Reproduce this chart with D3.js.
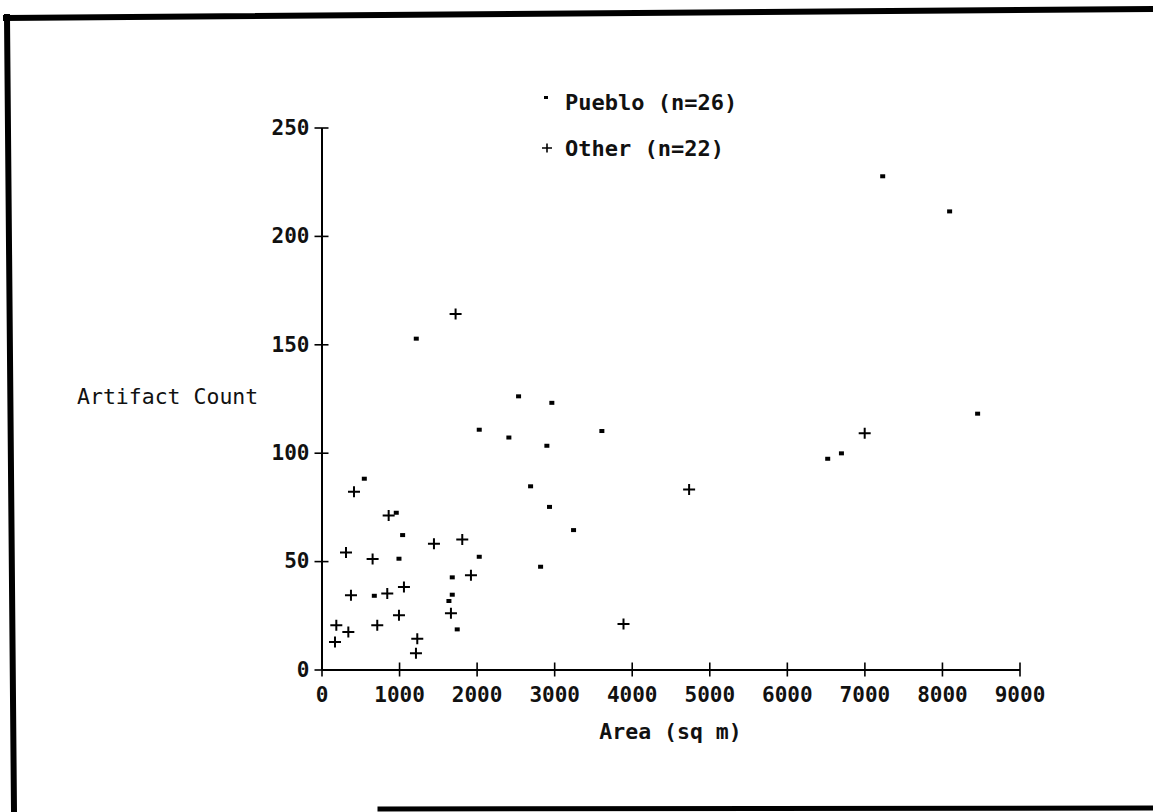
<!DOCTYPE html>
<html>
<head>
<meta charset="utf-8">
<script src="https://cdn.jsdelivr.net/npm/d3@7"></script>
<style>
  html, body { margin: 0; padding: 0; background: #fff; }
  svg { display: block; }
  text { font-family: "DejaVu Sans Mono", "Liberation Mono", monospace; fill: #111; }
</style>
</head>
<body>
<svg id="chart" width="1153" height="812"></svg>
<script>
// ---- data ----
const puebloArea  = [1222, 2541, 2970, 2034, 2416, 2906, 3615, 7236, 8099, 8460, 6527, 6704, 2696,
                     2940, 3250, 2825, 2034, 552, 964, 1046, 999, 1686, 1686, 1643, 681, 1750];
const puebloCount = [152.6, 126, 123, 110.6, 107, 103.2, 110, 227.5, 211.3, 118, 97.2, 99.7, 84.5,
                     75, 64.3, 47.4, 52, 88, 72.3, 62, 51.1, 42.5, 34.5, 31.6, 34, 18.5];
const otherArea   = [1729, 7004, 4740, 3894, 1815, 1927, 419, 866, 1450, 316, 659, 1063, 380, 848,
                     1669, 999, 191, 719, 346, 174, 1235, 1218];
const otherCount  = [164, 109, 83, 21, 60, 43.5, 82, 71, 58, 54, 51, 38, 34.2, 35,
                     26, 25, 20.4, 20.4, 17.3, 12.7, 14.2, 7.5];
const xTicks = [0, 1000, 2000, 3000, 4000, 5000, 6000, 7000, 8000, 9000];
const yTicks = [0, 50, 100, 150, 200, 250];
const legendLabels = ["Pueblo (n=26)", "Other (n=22)"];
const xTitle = "Area (sq m)";
const yTitle = "Artifact Count";

const svg = d3.select("#chart");
const x = d3.scaleLinear().domain([0, 9000]).range([321.5, 1019.5]);
const y = d3.scaleLinear().domain([0, 250]).range([669.5, 127.5]);

// ---- frame ----
const frame = svg.append("g").attr("stroke", "#000").attr("stroke-linecap", "square");
frame.append("line").attr("x1", 6).attr("y1", 18).attr("x2", 1153).attr("y2", 9).attr("stroke-width", 6);
frame.append("line").attr("x1", 7).attr("y1", 17).attr("x2", 14).attr("y2", 812).attr("stroke-width", 6);
frame.append("line").attr("x1", 380).attr("y1", 809).attr("x2", 1153).attr("y2", 808).attr("stroke-width", 5);

// ---- axes ----
const xAxis = d3.axisBottom(x).tickValues(xTicks).tickSize(0).tickPadding(18).tickFormat(d3.format("d"));
const gx = svg.append("g").attr("transform", `translate(0,${y(0)})`).call(xAxis);
gx.select(".domain").attr("stroke", "#000").attr("stroke-width", 2);
gx.selectAll(".tick line").remove();
gx.selectAll(".tick").append("line").attr("y1", -7).attr("y2", 7).attr("stroke", "#000").attr("stroke-width", 1.6);
gx.selectAll(".tick text").attr("font-size", 21).attr("font-weight", "bold")
  .attr("font-family", "'DejaVu Sans Mono', monospace").attr("fill", "#111");

const yAxis = d3.axisLeft(y).tickValues(yTicks).tickSize(0).tickPadding(12).tickFormat(d3.format("d"));
const gy = svg.append("g").attr("transform", `translate(${x(0)},0)`).call(yAxis);
gy.select(".domain").attr("stroke", "#000").attr("stroke-width", 2);
gy.selectAll(".tick line").remove();
gy.selectAll(".tick").append("line").attr("x1", -7).attr("x2", 7).attr("stroke", "#000").attr("stroke-width", 1.6);
gy.selectAll(".tick text").attr("font-size", 21).attr("font-weight", "bold")
  .attr("font-family", "'DejaVu Sans Mono', monospace").attr("fill", "#111");

// axis titles
svg.append("text").attr("x", (x(0) + x(9000)) / 2).attr("y", 739)
  .attr("text-anchor", "middle").attr("font-size", 21.5).attr("font-weight", "bold").text(xTitle);
svg.append("text").attr("x", 77).attr("y", 404)
  .attr("font-size", 21.5).text(yTitle);

// ---- markers ----
const pueblo = puebloArea.map((a, i) => ({ a, c: puebloCount[i] }));
const other = otherArea.map((a, i) => ({ a, c: otherCount[i] }));

svg.append("g").selectAll("rect").data(pueblo).join("rect")
  .attr("x", d => x(d.a) - 2.5).attr("y", d => y(d.c) - 2)
  .attr("width", 5).attr("height", 4).attr("fill", "#000");

const plusPath = "M-6,0H6M0,-5.5V5.5";
svg.append("g").selectAll("path").data(other).join("path")
  .attr("transform", d => `translate(${x(d.a)},${y(d.c)})`)
  .attr("d", plusPath).attr("stroke", "#000").attr("stroke-width", 2).attr("fill", "none");

// ---- legend ----
const lg = svg.append("g");
lg.append("rect").attr("x", 544).attr("y", 96).attr("width", 4).attr("height", 3).attr("fill", "#000");
lg.append("text").attr("x", 565).attr("y", 110).attr("font-size", 22).attr("font-weight", "bold").text(legendLabels[0]);
lg.append("path").attr("transform", "translate(547,148)").attr("d", "M-5,0H5M0,-4.5V4.5")
  .attr("stroke", "#000").attr("stroke-width", 1.6);
lg.append("text").attr("x", 565).attr("y", 156).attr("font-size", 22).attr("font-weight", "bold").text(legendLabels[1]);
</script>
</body>
</html>
